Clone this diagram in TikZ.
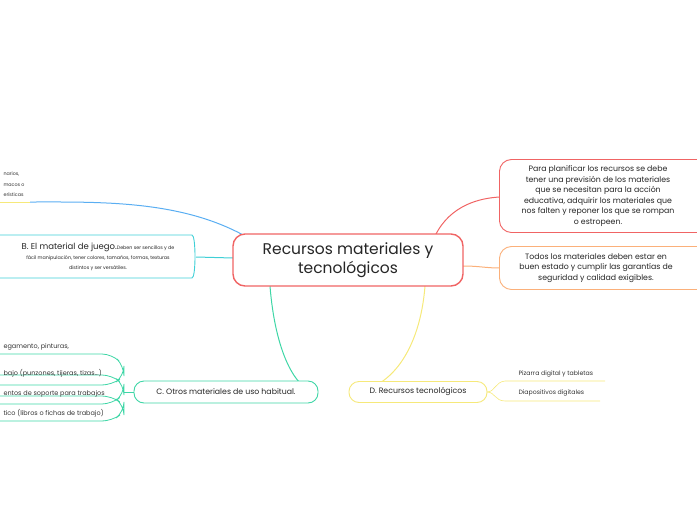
\documentclass[tikz,border=0pt]{standalone}
\usepackage{fontspec}
\setmainfont{Poppins}
\begin{document}
\begin{tikzpicture}[x=1pt,y=-1pt,
 box/.style={draw,rounded corners=12pt,line width=0.9pt,fill=white,inner sep=0pt},
 t/.style={font=\fontsize{6.5}{8}\selectfont,text=black!80,anchor=west},
 ln/.style={line width=1pt}]
\definecolor{cred}{HTML}{F06464}\definecolor{cor}{HTML}{FBB07A}
\definecolor{cyel}{HTML}{F6E97A}\definecolor{cgr}{HTML}{3ED6A6}
\definecolor{ccy}{HTML}{3FCFD6}\definecolor{cbl}{HTML}{5AAEF2}
\useasboundingbox (0,0) rectangle (697,520);
% connectors
\coordinate (aend) at (30,202);
\draw[ln,cbl] (245,236) .. controls (180,200) and (100,202) .. (aend);
\draw[ln,cyel] (0,202) -- (aend);
\draw[ln,cred] (435,236) .. controls (450,205) and (480,198) .. (500,197);
\draw[ln,cor] (463,266) .. controls (480,266) and (485,268) .. (500,268);
\draw[ln,cyel] (425,286) .. controls (420,350) and (390,392) .. (349,392);
\draw[ln,cgr] (270,286) .. controls (275,350) and (295,392) .. (318,392);
\draw[ln,ccy] (233,258) -- (196,257);
% nodes
\node[box,draw=cred,minimum width=230,minimum height=52,line width=1.4pt] (c) at (348,260) {};
\node[font=\fontsize{15.5}{19}\selectfont,align=center,text=black!85] (ct) at (348,260) {Recursos materiales y\\tecnológicos};
\node[box,draw=cred,minimum width=210,minimum height=73,anchor=west] (r1) at (499,196) {};
\node[font=\fontsize{7.8}{10.5}\selectfont,align=center,text=black!85] (r1t) at (598,196) {Para planificar los recursos se debe\\tener una previsión de los materiales\\que se necesitan para la acción\\educativa, adquirir los materiales que\\nos falten y reponer los que se rompan\\o estropeen.};
\node[box,draw=cor,minimum width=210,minimum height=43,anchor=west] (r2) at (499,268) {};
\node[font=\fontsize{7.8}{10.5}\selectfont,align=center,text=black!85] (r2t) at (596,268) {Todos los materiales deben estar en\\buen estado y cumplir las garantías de\\seguridad y calidad exigibles.};
\node[box,draw=cyel,rounded corners=10pt,minimum width=138,minimum height=21] (d) at (418,392) {};
\node[font=\fontsize{7.8}{9}\selectfont,text=black!85] (dt) at (418,391) {D. Recursos tecnológicos};
\draw[ln,cyel,line width=0.6pt] (487,392) .. controls (495,392) and (495,382) .. (505,381) -- (605,381);
\draw[ln,cyel,line width=0.6pt] (487,392) .. controls (495,392) and (495,401) .. (505,401) -- (600,401);
\node[t,font=\fontsize{6.2}{7}\selectfont] (d1) at (515,374) {Pizarra digital y tabletas};
\node[t,font=\fontsize{6.2}{7}\selectfont] (d2) at (515,393) {Diapositivos digitales};
\node[box,draw=cgr,rounded corners=10pt,minimum width=184,minimum height=22] (cc) at (226,392) {};
\node[font=\fontsize{7.8}{9}\selectfont,text=black!85] (cct) at (226,392) {C. Otros materiales de uso habitual.};
\draw[cgr,line width=0.8pt,rounded corners=10pt] (-10,354) -- (112,354) -- (124,366) -- (124,376) -- (112,385) -- (-10,385);
\draw[cgr,line width=0.8pt,rounded corners=10pt] (-10,375) -- (112,375) -- (124,385) -- (124,394) -- (112,404) -- (-10,404);
\draw[cgr,line width=0.8pt,rounded corners=10pt] (-10,396) -- (112,396) -- (124,405) -- (124,412) -- (112,421) -- (-10,421);
\draw[cgr,line width=0.8pt] (124,392) -- (134,392);
\node[t] (c0) at (0,347) {egamento, pinturas,};
\node[t] (c1) at (0,373) {bajo (punzones, tijeras, tizas...)};
\node[t] (c2) at (0,394) {entos de soporte para trabajos};
\node[t] (c3) at (0,413) {tico (libros o fichas de trabajo)};
\draw[ccy,line width=0.9pt,rounded corners=14pt] (-10,235) -- (178,235) .. controls (196,235) and (196,278) .. (178,278) -- (-10,278);
\node[font=\fontsize{8.5}{9}\selectfont,align=center,text=black!85] (b) at (98,257) {B. El material de juego.{\fontsize{4.8}{6}\selectfont Deben ser sencillos y de}\\[1pt]{\fontsize{4.8}{6}\selectfont fácil manipulación, tener colores, tamaños, formas, texturas}\\[1pt]{\fontsize{4.8}{6}\selectfont distintos y ser versátiles.}};
\node[t,font=\fontsize{4.8}{6}\selectfont] (a1) at (0,174) {narios,};
\node[t,font=\fontsize{4.8}{6}\selectfont] (a2) at (0,185) {macos o};
\node[t,font=\fontsize{4.8}{6}\selectfont] (a3) at (0,195) {erísticas};
\end{tikzpicture}
\end{document}
